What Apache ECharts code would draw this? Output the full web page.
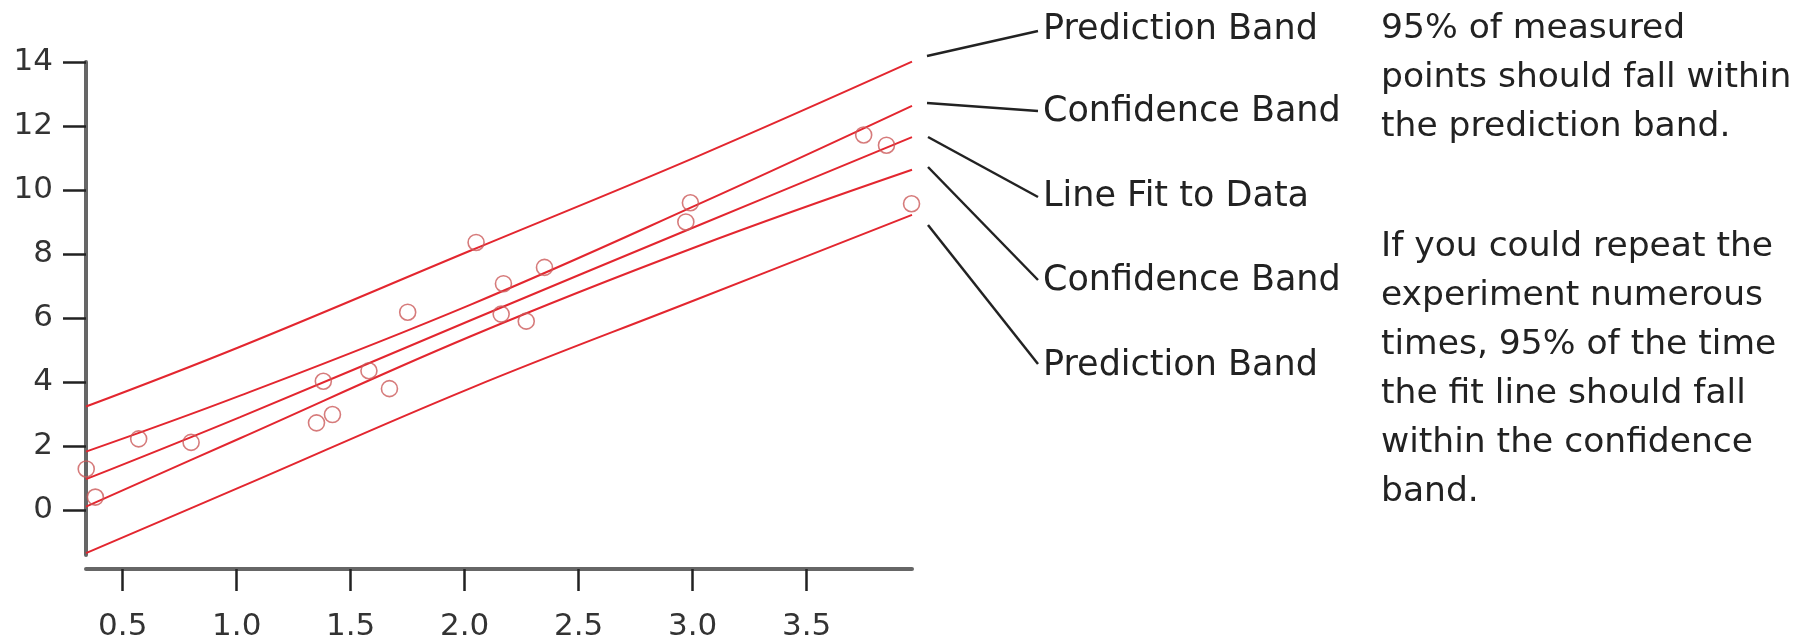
<!DOCTYPE html>
<html>
<head>
<meta charset="utf-8">
<script src="https://cdn.jsdelivr.net/npm/echarts@6/dist/echarts.min.js"></script>
<style>
  html, body { margin: 0; padding: 0; background: #ffffff; }
  #chart { width: 1799px; height: 638px; }
</style>
</head>
<body>
<div id="chart"></div>
<script>
// ---- data ----
const pointX = [0.34, 0.38, 0.57, 0.80, 1.35, 1.38, 1.42, 1.58, 1.67, 1.75, 2.05, 2.16, 2.17, 2.27, 2.35, 2.97, 2.99, 3.75, 3.85, 3.96];
const pointY = [1.28, 0.40, 2.22, 2.11, 2.72, 4.02, 2.98, 4.35, 3.79, 6.18, 8.36, 6.12, 7.07, 5.90, 7.58, 9.00, 9.60, 11.72, 11.40, 9.57];

const bandX         = [0.339, 1.015, 2.024, 3.011, 3.962];
const upperPred     = [3.23, 5.10, 8.10, 11.02, 14.01];
const upperConf     = [1.82, 3.57, 6.41, 9.51, 12.63];
const fitLine       = [0.96, 2.90, 5.92, 8.85, 11.65];
const lowerConf     = [0.10, 2.24, 5.42, 8.21, 10.63];
const lowerPred     = [-1.35, 0.71, 3.80, 6.56, 9.22];

const yTicks = [0, 2, 4, 6, 8, 10, 12, 14];
const xTicks = [0.5, 1.0, 1.5, 2.0, 2.5, 3.0, 3.5];

const bandLabels = ['Prediction Band', 'Confidence Band', 'Line Fit to Data', 'Confidence Band', 'Prediction Band'];
const note1 = ['95% of measured', 'points should fall within', 'the prediction band.'];
const note2 = ['If you could repeat the', 'experiment numerous', 'times, 95% of the time', 'the fit line should fall', 'within the confidence', 'band.'];

// ---- build ----
const FONT = '"DejaVu Sans", Verdana, sans-serif';
const RED = '#e3262f';
const zip = (xs, ys) => xs.map((x, i) => [x, ys[i]]);

const lineSeries = [upperPred, upperConf, fitLine, lowerConf, lowerPred].map(arr => ({
  type: 'line',
  data: zip(bandX, arr),
  symbol: 'none',
  smooth: 0.4,
  clip: false,
  lineStyle: { color: RED, width: 2 },
  silent: true,
  z: 3
}));

const scatterSeries = {
  type: 'scatter',
  data: zip(pointX, pointY),
  symbol: 'circle',
  symbolSize: 16,
  clip: false,
  itemStyle: { color: 'rgba(0,0,0,0)', borderColor: '#cc5a5a', borderWidth: 1.6 },
  z: 4
};

// annotation layout (pixels)
const labelX = 1043;
const labelY = [29.5, 111.5, 196.5, 281, 365.5];
const leaders = [
  [927, 56, 1038, 31],
  [927, 103, 1038, 111],
  [928, 137, 1038, 197],
  [928, 167, 1038, 280],
  [928, 225, 1038, 364]
];
const noteX = 1381;
const note1Top = 29.5;
const note2Top = 247;
const noteLH = 49;

const graphics = [];
bandLabels.forEach((t, i) => {
  graphics.push({
    type: 'text', x: labelX, y: labelY[i], silent: true,
    style: { text: t, fontFamily: FONT, fontSize: 35, fill: '#222', verticalAlign: 'middle', align: 'left' }
  });
});
leaders.forEach(l => {
  graphics.push({
    type: 'line', silent: true,
    shape: { x1: l[0], y1: l[1], x2: l[2], y2: l[3] },
    style: { stroke: '#222', lineWidth: 2.5 }
  });
});
note1.forEach((t, i) => {
  graphics.push({
    type: 'text', x: noteX, y: note1Top + i * noteLH, silent: true,
    style: { text: t, fontFamily: FONT, fontSize: 34.5, fill: '#222', verticalAlign: 'middle', align: 'left' }
  });
});
note2.forEach((t, i) => {
  graphics.push({
    type: 'text', x: noteX, y: note2Top + i * noteLH, silent: true,
    style: { text: t, fontFamily: FONT, fontSize: 34.5, fill: '#222', verticalAlign: 'middle', align: 'left' }
  });
});

const chart = echarts.init(document.getElementById('chart'), null, { renderer: 'canvas' });
chart.setOption({
  backgroundColor: '#ffffff',
  animation: false,
  grid: { left: 86, right: 887, top: 62, bottom: 83, containLabel: false, outerBoundsMode: 'none' },
  xAxis: {
    type: 'value',
    min: 0.339, max: 3.962,
    offset: 14,
    axisLine: { show: true, onZero: false, lineStyle: { color: '#666', width: 4 } },
    axisTick: { show: true, length: 22, customValues: xTicks, lineStyle: { color: '#222', width: 2.5 } },
    axisLabel: { customValues: xTicks, margin: 42, fontFamily: FONT, fontSize: 31, color: '#333',
                 formatter: v => v.toFixed(1) },
    splitLine: { show: false }
  },
  yAxis: {
    type: 'value',
    min: -1.41, max: 14,
    axisLine: { show: true, onZero: false, lineStyle: { color: '#666', width: 4 } },
    axisTick: { show: true, length: 23, customValues: yTicks, lineStyle: { color: '#222', width: 2.5 } },
    axisLabel: { customValues: yTicks, margin: 33, fontFamily: FONT, fontSize: 31, color: '#333',
                 formatter: v => String(v) },
    splitLine: { show: false }
  },
  series: [...lineSeries, scatterSeries],
  graphic: graphics
});
</script>
</body>
</html>
